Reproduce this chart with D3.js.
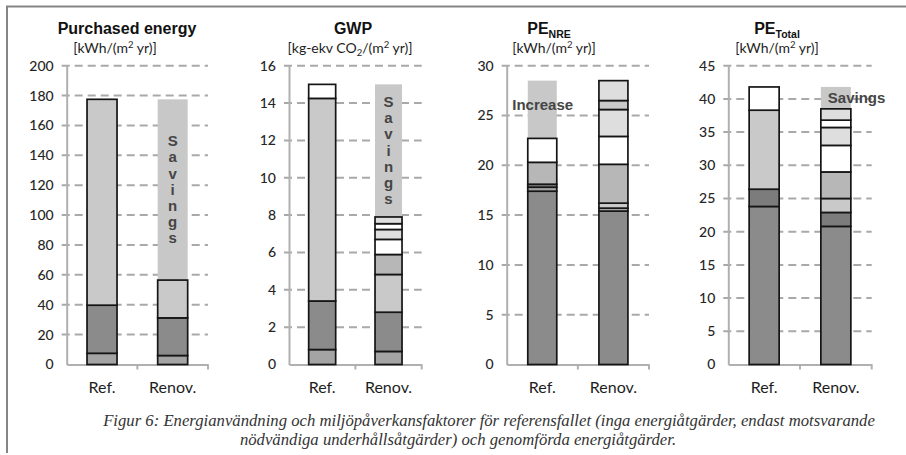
<!DOCTYPE html>
<html>
<head>
<meta charset="utf-8">
<script src="https://cdn.jsdelivr.net/npm/d3@7"></script>
<style>
  body { margin: 0; background: #fff; }
  svg { display: block; }
</style>
</head>
<body>
<svg id="chart" width="906" height="455"></svg>
<script>
// ---- data -------------------------------------------------------------
const categories = ["Ref.", "Renov."];

// Purchased energy [kWh/(m² yr)], stacked segments from the bottom up
const purchasedRef   = [7.5, 32.2, 137.8];
const purchasedRenov = [6.0, 25.2, 25.3];
const purchasedTicks = [0, 20, 40, 60, 80, 100, 120, 140, 160, 180, 200];

// GWP [kg-ekv CO2/(m² yr)]
const gwpRef   = [0.8, 2.6, 10.85, 0.75];
const gwpRenov = [0.7, 2.1, 2.02, 1.07, 0.81, 0.53, 0.31, 0.36];
const gwpTicks = [0, 2, 4, 6, 8, 10, 12, 14, 16];

// PE non-renewable [kWh/(m² yr)]
const peNreRef   = [17.4, 0.4, 0.3, 2.2, 2.4];
const peNreRenov = [15.4, 0.3, 0.5, 3.9, 2.8, 2.7, 0.9, 2.0];
const peNreTicks = [0, 5, 10, 15, 20, 25, 30];

// PE total [kWh/(m² yr)]
const peTotRef   = [23.8, 2.6, 11.9, 3.5];
const peTotRenov = [20.8, 2.1, 2.1, 4.0, 4.0, 2.7, 1.1, 1.7];
const peTotTicks = [0, 5, 10, 15, 20, 25, 30, 35, 40, 45];

const captionLines = [
  "Figur 6: Energianvändning och miljöpåverkansfaktorer för referensfallet (inga energiåtgärder, endast motsvarande",
  "nödvändiga underhållsåtgärder) och genomförda energiåtgärder."
];

// ---- styling ----------------------------------------------------------
const C = {
  dark: "#8b8b8b", darker: "#7c7c7c", mid: "#a4a4a4", light: "#c9c9c9",
  soft: "#b7b7b7", pale: "#dedede", white: "#ffffff"
};
const shadeColor = "#c8c8c8";
const sans = "'Liberation Sans', Arial, sans-serif";
const calib = "Lato, 'Open Sans', sans-serif";

const panels = [
  {
    title: [{t: "Purchased energy"}], titleX: 127,
    sub: [{t: "[kWh/(m"}, {t: "2", sup: true}, {t: " yr)]"}], subX: 115,
    x0: 66.7, x1: 208, barW: 30, ticks: purchasedTicks,
    bars: [purchasedRef, purchasedRenov],
    fills: [[C.mid, C.dark, C.light], [C.mid, C.dark, C.light]],
    note: {type: "savings", vertical: true}
  },
  {
    title: [{t: "GWP"}], titleX: 353,
    sub: [{t: "[kg-ekv CO"}, {t: "2", sub: true}, {t: "/(m"}, {t: "2", sup: true}, {t: " yr)]"}], subX: 350,
    x0: 289, x1: 421.7, barW: 27, ticks: gwpTicks,
    bars: [gwpRef, gwpRenov],
    fills: [[C.mid, C.dark, C.light, C.white],
            [C.mid, C.dark, C.light, C.soft, C.white, C.pale, C.white, C.pale]],
    note: {type: "savings", vertical: true}
  },
  {
    title: [{t: "PE"}, {t: "NRE", sub: true}], titleX: 549,
    sub: [{t: "[kWh/(m"}, {t: "2", sup: true}, {t: " yr)]"}], subX: 554,
    x0: 506.7, x1: 649, barW: 29, ticks: peNreTicks,
    bars: [peNreRef, peNreRenov],
    fills: [[C.dark, C.mid, C.darker, C.soft, C.white],
            [C.dark, C.mid, C.light, C.soft, C.white, C.pale, C.light, C.pale]],
    note: {type: "increase"}
  },
  {
    title: [{t: "PE"}, {t: "Total", sub: true}], titleX: 777,
    sub: [{t: "[kWh/(m"}, {t: "2", sup: true}, {t: " yr)]"}], subX: 777,
    x0: 728.3, x1: 871.7, barW: 30, ticks: peTotTicks,
    bars: [peTotRef, peTotRenov],
    fills: [[C.dark, C.darker, C.light, C.white],
            [C.dark, C.darker, C.light, C.soft, C.white, C.pale, C.white, C.pale]],
    note: {type: "savings", vertical: false}
  }
];

// ---- drawing ----------------------------------------------------------
const svg = d3.select("#chart");
const Y0 = 364.5, Y1 = 65.7;

// outer frame (left and top edges)
svg.append("path")
  .attr("d", "M7,453 V6.5 H906")
  .attr("fill", "none").attr("stroke", "#858585").attr("stroke-width", 2);

panels.forEach(p => {
  const g = svg.append("g");
  const y = d3.scaleLinear().domain([0, d3.max(p.ticks)]).range([Y0, Y1]);
  const x = d3.scaleBand().domain(categories).range([p.x0, p.x1]).padding(0);
  const cx = c => x(c) + x.bandwidth() / 2;

  // dashed gridlines
  g.selectAll("line.grid").data(p.ticks.filter(d => d > 0)).join("line")
    .attr("class", "grid")
    .attr("x1", p.x0 - 5).attr("x2", p.x1)
    .attr("y1", d => y(d)).attr("y2", d => y(d))
    .attr("stroke", "#a9a9a9").attr("stroke-width", 2)
    .attr("stroke-dasharray", "8,5");

  // y axis
  const ay = g.append("g").attr("transform", `translate(${p.x0},0)`)
    .call(d3.axisLeft(y).tickValues(p.ticks).tickSize(0).tickPadding(13));
  ay.select(".domain").attr("stroke", "#b0b0b0").attr("stroke-width", 2);
  ay.selectAll("text").attr("font-family", calib).attr("font-size", 14)
    .attr("fill", "#262626").attr("font-weight", 500);

  // x axis with category separators
  const ax = g.append("g").attr("transform", `translate(0,${Y0})`)
    .call(d3.axisBottom(x).tickSize(0).tickFormat(""));
  ax.select(".domain").attr("stroke", "#b0b0b0").attr("stroke-width", 2);
  g.selectAll("line.sep").data(categories).join("line")
    .attr("class", "sep")
    .attr("x1", d => x(d) + x.bandwidth()).attr("x2", d => x(d) + x.bandwidth())
    .attr("y1", Y0).attr("y2", Y0 + 5)
    .attr("stroke", "#b0b0b0").attr("stroke-width", 2);

  // shaded savings / increase band
  const totals = p.bars.map(b => d3.sum(b));
  const lo = Math.min(totals[0], totals[1]), hi = Math.max(totals[0], totals[1]);
  const shadeCat = p.note.type === "increase" ? categories[0] : categories[1];
  g.append("rect")
    .attr("x", cx(shadeCat) - p.barW / 2).attr("width", p.barW)
    .attr("y", y(hi)).attr("height", y(lo) - y(hi))
    .attr("fill", shadeColor);

  // stacked bars
  p.bars.forEach((vals, i) => {
    const tops = d3.cumsum(vals);
    const segs = vals.map((v, k) => ({lo: tops[k] - v, hi: tops[k], fill: p.fills[i][k]}));
    g.selectAll(null).data(segs).join("rect")
      .attr("x", cx(categories[i]) - p.barW / 2).attr("width", p.barW)
      .attr("y", d => y(d.hi)).attr("height", d => y(d.lo) - y(d.hi))
      .attr("fill", d => d.fill)
      .attr("stroke", "#151515").attr("stroke-width", 1.7);
  });

  // annotation text
  const noteStyle = t => t.attr("font-family", sans).attr("font-weight", "bold")
    .attr("font-size", 15).attr("fill", "#454545");
  if (p.note.type === "increase") {
    noteStyle(g.append("text").attr("x", cx(categories[0]) - 30).attr("y", 110).text("Increase"));
  } else if (p.note.vertical) {
    const letters = "Savings".split("");
    const t = g.append("text").attr("text-anchor", "middle");
    noteStyle(t);
    const startY = y(hi) + (y(lo) - y(hi)) / 2 - (letters.length - 1) * 16.2 / 2 + 5;
    t.selectAll("tspan").data(letters).join("tspan")
      .attr("x", cx(categories[1])).attr("y", (d, k) => startY + k * 16.2).text(d => d);
  } else {
    noteStyle(g.append("text").attr("x", cx(categories[1]) - 8).attr("y", 103).text("Savings"));
  }

  // category labels
  g.selectAll("text.cat").data(categories).join("text")
    .attr("class", "cat")
    .attr("x", d => cx(d)).attr("y", 393).attr("text-anchor", "middle")
    .attr("font-family", calib).attr("font-size", 16).attr("fill", "#1e1e1e")
    .text(d => d);

  // titles
  const title = g.append("text").attr("x", p.titleX).attr("y", 34)
    .attr("text-anchor", "middle").attr("font-family", sans)
    .attr("font-weight", "bold").attr("font-size", 16).attr("fill", "#111");
  title.selectAll("tspan").data(p.title).join("tspan")
    .attr("font-size", d => d.sub ? 10.5 : null)
    .attr("dy", (d, k) => d.sub ? 4 : 0)
    .text(d => d.t);

  const sub = g.append("text").attr("x", p.subX).attr("y", 53)
    .attr("text-anchor", "middle").attr("font-family", calib)
    .attr("font-size", 14).attr("fill", "#1e1e1e");
  let shift = 0;
  sub.selectAll("tspan").data(p.sub).join("tspan")
    .attr("font-size", d => (d.sup || d.sub) ? 9.5 : null)
    .attr("dy", d => {
      const target = d.sup ? -5 : d.sub ? 3 : 0;
      const dy = target - shift; shift = target; return dy;
    })
    .text(d => d.t);
});

// caption
const captionX = [489, 458];
svg.append("text").attr("text-anchor", "middle")
  .attr("font-family", "'Liberation Serif', 'Times New Roman', serif")
  .attr("font-style", "italic").attr("font-size", 16.7).attr("fill", "#333")
  .selectAll("tspan").data(captionLines).join("tspan")
  .attr("x", (d, i) => captionX[i]).attr("y", (d, i) => 426 + i * 19).text(d => d);
</script>
</body>
</html>
